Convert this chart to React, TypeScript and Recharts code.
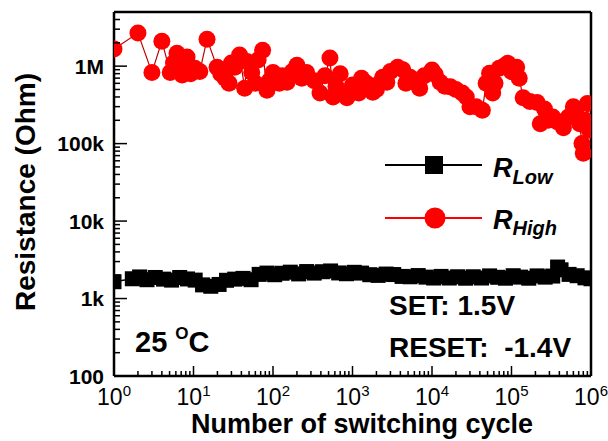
import React from 'react';
import {
  ComposedChart, Scatter, XAxis, YAxis, ReferenceLine, Legend, Customized,
} from 'recharts';

// ---------- data ----------
const highCycles = [1, 2, 3, 4, 5.1, 5.6, 6.2, 6.5, 6.8, 7.2, 7.8, 8.3, 9.2, 10.4, 12, 14.8, 19.8, 22, 25, 28, 30, 33, 38, 44, 47, 54, 60, 65, 74, 84, 90, 100, 120, 130, 150, 175, 200, 230, 265, 330, 390, 450, 520, 570, 620, 700, 760, 850, 920, 1000, 1200, 1300, 1500, 1650, 1800, 2000, 2200, 2400, 2700, 3000, 3700, 4300, 4700, 5300, 6000, 7000, 8000, 10000, 11000, 12700, 14500, 17000, 20000, 24000, 27000, 30000, 36000, 43000, 48000, 53000, 58000, 62000, 70000, 80000, 90000, 100000, 116000, 125000, 140000, 170000, 210000, 230000, 260000, 290000, 330000, 380000, 450000, 520000, 600000, 650000, 720000, 770000, 800000, 850000, 900000, 950000];
const highMOhm = [1.66, 2.67, 0.83, 2.1, 0.83, 1.1, 1.47, 0.9, 1.03, 0.77, 1.0, 1.31, 0.8, 0.94, 0.85, 2.23, 0.97, 0.8, 0.7, 0.6, 1.1, 0.97, 1.39, 0.52, 1.15, 0.83, 0.6, 1.2, 1.6, 0.49, 0.65, 0.83, 0.6, 0.75, 0.62, 0.85, 1.03, 0.7, 0.83, 0.65, 0.45, 0.75, 1.27, 0.4, 0.55, 0.8, 0.45, 0.39, 0.48, 0.57, 0.45, 0.7, 0.6, 0.55, 0.46, 0.5, 0.6, 0.72, 0.62, 0.85, 0.97, 0.9, 0.6, 0.72, 0.62, 0.52, 0.75, 0.89, 0.78, 0.62, 0.55, 0.54, 0.5, 0.45, 0.4, 0.3, 0.3, 0.27, 0.6, 0.81, 0.45, 0.6, 0.94, 1.0, 1.09, 0.85, 0.97, 0.7, 0.39, 0.35, 0.34, 0.18, 0.28, 0.2, 0.22, 0.19, 0.16, 0.22, 0.3, 0.25, 0.18, 0.1, 0.075, 0.2, 0.33, 0.15];

const lowCycles = [1, 1.7, 2.1, 2.6, 3.3, 4.2, 5.3, 6.7, 8.4, 10.5, 13, 16.5, 21, 26, 33, 42, 53, 67, 84, 105, 130, 165, 210, 265, 330, 420, 530, 670, 840, 1050, 1300, 1650, 2100, 2650, 3300, 4200, 5300, 6700, 8400, 10500, 13000, 16500, 21000, 26500, 33000, 42000, 53000, 67000, 84000, 105000, 130000, 165000, 210000, 265000, 330000, 380000, 420000, 530000, 670000, 840000, 1000000];
const lowOhm = [1650, 1800, 1900, 1750, 1870, 1780, 1730, 1870, 1790, 1730, 1500, 1440, 1520, 1720, 1780, 1820, 1750, 2050, 2130, 2030, 2120, 2190, 2080, 2230, 2130, 2220, 2270, 2140, 2090, 2180, 2130, 2030, 1990, 2070, 2040, 1930, 1910, 1980, 1890, 1840, 1930, 1840, 1910, 1830, 1910, 1840, 1960, 1880, 1830, 1970, 1890, 1830, 1960, 1890, 1950, 2550, 2350, 2050, 1970, 1850, 1800];

const xMajor = [1, 10, 100, 1000, 10000, 100000, 1000000];
const xMajorExp = ['0', '1', '2', '3', '4', '5', '6'];
const yMajor = [100, 1000, 10000, 100000, 1000000];
const yMajorLabels = ['100', '1k', '10k', '100k', '1M'];
const minorMult = [2, 3, 4, 5, 6, 7, 8, 9];

const xTicks: number[] = [];
xMajor.forEach((m, i) => {
  xTicks.push(m);
  if (i < xMajor.length - 1) minorMult.forEach((k) => xTicks.push(m * k));
});
const yTicks: number[] = [];
yMajor.forEach((m) => {
  yTicks.push(m);
  minorMult.forEach((k) => { if (m * k <= 5e6) yTicks.push(m * k); });
});

const highData = highCycles.map((x, i) => ({ x, y: highMOhm[i] * 1e6 }));
const lowData = lowCycles.map((x, i) => ({ x, y: lowOhm[i] }));

const FONT = '"Liberation Sans", Arial, sans-serif';
const RED = '#ff0000';

const XTick = (props: any) => {
  const { x, y, payload } = props;
  const idx = xMajor.indexOf(payload.value);
  const major = idx >= 0;
  return (
    <g>
      <line x1={x} x2={x} y1={y} y2={y - (major ? 10 : 5)} stroke="#000" strokeWidth={1.5} />
      {major && (
        <text x={x} y={y + 29} textAnchor="middle" fontFamily={FONT} fontSize={23} fill="#000">
          10<tspan dy={-9} fontSize={15}>{xMajorExp[idx]}</tspan>
        </text>
      )}
    </g>
  );
};

const YTick = (props: any) => {
  const { x, y, payload } = props;
  const idx = yMajor.indexOf(payload.value);
  const major = idx >= 0;
  return (
    <g>
      <line x1={x} x2={x + (major ? 13 : 6)} y1={y} y2={y} stroke="#000" strokeWidth={1.5} />
      {major && (
        <text x={x - 10} y={y} dy="0.36em" textAnchor="end" fontFamily={FONT} fontWeight="bold" fontSize={21} fill="#000">
          {yMajorLabels[idx]}
        </text>
      )}
    </g>
  );
};

const circleShape = (p: any) => <circle cx={p.cx} cy={p.cy} r={8.5} fill={RED} />;
const squareShape = (p: any) => <rect x={p.cx - 7.5} y={p.cy - 7.5} width={15} height={15} fill="#000" />;

const LegendContent = () => (
  <svg width={220} height={100} style={{ overflow: 'visible' }}>
    <line x1={5} x2={102} y1={20} y2={20} stroke="#000" strokeWidth={2} />
    <rect x={45} y={11} width={18} height={18} fill="#000" />
    <text x={113} y={32} fontFamily={FONT} fontStyle="italic" fontWeight="bold" fontSize={27} fill="#000">
      R<tspan dy={7} fontSize={20}>Low</tspan>
    </text>
    <line x1={5} x2={102} y1={73} y2={73} stroke={RED} strokeWidth={2} />
    <circle cx={55} cy={73} r={10.5} fill={RED} />
    <text x={113} y={84} fontFamily={FONT} fontStyle="italic" fontWeight="bold" fontSize={27} fill="#000">
      R<tspan dy={6} fontSize={20}>High</tspan>
    </text>
  </svg>
);

const Annotations = () => (
  <g fontFamily={FONT} fill="#000">
    <text x={135} y={352} fontSize={29} fontWeight="bold">
      25 <tspan dy={-13} fontSize={17}>O</tspan><tspan dy={13} fontSize={29}>C</tspan>
    </text>
    <text x={389} y={315} fontSize={28} fontWeight="bold">SET: 1.5V</text>
    <text x={389} y={357} fontSize={28} fontWeight="bold" style={{ whiteSpace: 'pre' }}>{'RESET:  -1.4V'}</text>
    <text x={362} y={433} fontSize={27} fontWeight="bold" textAnchor="middle">Number of switching cycle</text>
    <text x={35} y={192} fontSize={28} fontWeight="bold" textAnchor="middle" transform="rotate(-90, 35, 192)">Resistance (Ohm)</text>
  </g>
);

export default function App() {
  return (
    <div style={{ position: 'absolute', left: 0, top: 0, width: 608, height: 441, background: '#fff' }}>
      <ComposedChart width={608} height={441} margin={{ top: 12, right: 17, bottom: 0, left: 0 }}>
        <XAxis
          type="number"
          dataKey="x"
          scale="log"
          domain={[1, 1000000]}
          allowDataOverflow
          ticks={xTicks}
          interval={0}
          tickSize={0}
          tickMargin={0}
          tickLine={false}
          tick={<XTick />}
          axisLine={{ stroke: '#000', strokeWidth: 2.5 }}
          height={65}
        />
        <YAxis
          type="number"
          dataKey="y"
          scale="log"
          domain={[100, 5000000]}
          allowDataOverflow
          ticks={yTicks}
          interval={0}
          tickSize={0}
          tickMargin={0}
          tickLine={false}
          tick={<YTick />}
          axisLine={{ stroke: '#000', strokeWidth: 2.5 }}
          width={114}
        />
        <ReferenceLine y={5000000} stroke="#000" strokeWidth={2.5} />
        <ReferenceLine x={1000000} stroke="#000" strokeWidth={2.5} />
        <Scatter
          name="R_Low"
          data={lowData}
          line={{ stroke: '#000', strokeWidth: 1.5 }}
          lineType="joint"
          shape={squareShape}
          isAnimationActive={false}
        />
        <Scatter
          name="R_High"
          data={highData}
          line={{ stroke: '#c00000', strokeWidth: 1.2 }}
          lineType="joint"
          shape={circleShape}
          isAnimationActive={false}
        />
        <Legend
          layout="horizontal"
          verticalAlign="middle"
          align="center"
          content={<LegendContent />}
          wrapperStyle={{ left: 380, top: 145, width: 220, height: 100 }}
        />
        <Customized component={Annotations} />
      </ComposedChart>
    </div>
  );
}
